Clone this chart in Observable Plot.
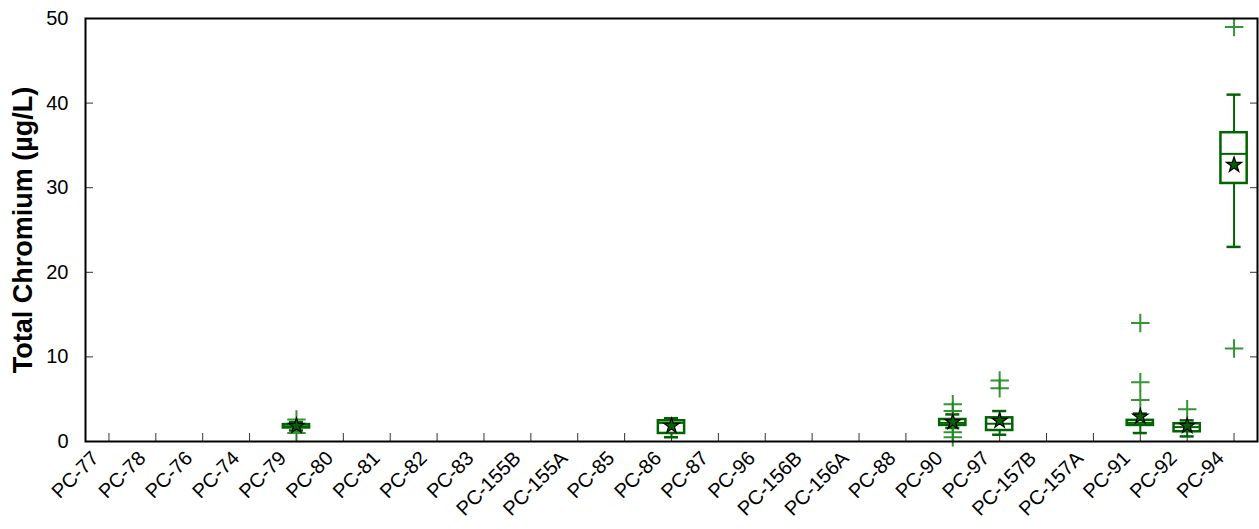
<!DOCTYPE html>
<html>
<head>
<meta charset="utf-8">
<script src="https://cdn.jsdelivr.net/npm/d3@7"></script>
<script src="https://cdn.jsdelivr.net/npm/@observablehq/plot@0.6"></script>
<style>
  html, body { margin: 0; padding: 0; background: #fff; }
  #chart { width: 1259px; height: 529px; }
  svg { font-family: "Liberation Sans", Arial, sans-serif; }
</style>
</head>
<body>
<div id="chart"></div>
<script>
// Categories along the x axis (in order)
const sites = ["PC-77","PC-78","PC-76","PC-74","PC-79","PC-80","PC-81","PC-82","PC-83","PC-155B","PC-155A","PC-85","PC-86","PC-87","PC-96","PC-156B","PC-156A","PC-88","PC-90","PC-97","PC-157B","PC-157A","PC-91","PC-92","PC-94"];

// Box statistics for sites that have data
const boxSites = ["PC-79","PC-86","PC-90","PC-97","PC-91","PC-92","PC-94"];
const whiskerLo = [1.3, 0.5, 1.6, 0.8, 1.0, 0.6, 23];
const q1        = [1.6, 0.95, 1.9, 1.3, 1.9, 1.15, 30.5];
const median    = [1.8, 2.2, 2.2, 2.1, 2.2, 1.7, 34];
const q3        = [2.0, 2.45, 2.6, 2.8, 2.5, 2.1, 36.5];
const whiskerHi = [2.3, 2.75, 3.2, 3.6, 3.3, 2.5, 41];
const means     = [1.85, 1.85, 2.3, 2.45, 2.95, 1.85, 32.7];

// Outliers
const flierSites  = ["PC-79","PC-79","PC-90","PC-90","PC-90","PC-90","PC-97","PC-97","PC-91","PC-91","PC-91","PC-92","PC-94","PC-94"];
const flierValues = [2.6, 1.0, 4.4, 3.6, 1.1, 0.5, 7.2, 6.3, 14.0, 7.0, 4.9, 3.8, 49, 11];

// Y ticks
const yTicks = [0, 10, 20, 30, 40, 50];

const pos = s => sites.indexOf(s) + 1;
const boxes = boxSites.map((s, i) => ({
  x: pos(s), lo: whiskerLo[i], q1: q1[i], med: median[i], q3: q3[i], hi: whiskerHi[i], mean: means[i]
}));
const fliers = flierSites.map((s, i) => ({x: pos(s), v: flierValues[i]}));
const xTicks = d3.range(1, sites.length + 1);
const labels = sites.map((s, i) => ({x: i + 1, s}));

const boxHalf = 0.28, capHalf = 0.15;
const dark = "#006400";
const FONT = "'Liberation Sans', Arial, sans-serif";

const chart = Plot.plot({
  width: 1259,
  height: 529,
  marginLeft: 85,
  marginRight: 2,
  marginTop: 18,
  marginBottom: 88,
  style: {fontFamily: FONT, background: "white", color: "black"},
  x: {domain: [0.5, sites.length + 0.5], axis: null},
  y: {domain: [0, 50], axis: null},
  marks: [
    // x tick labels (rotated)
    Plot.text(labels, {x: "x", text: "s", frameAnchor: "bottom", rotate: -45, textAnchor: "end", dx: -9, dy: 18, fontSize: 20, fill: "black"}),
    // y tick labels
    Plot.text(yTicks, {y: d => d, text: d => String(d), frameAnchor: "left", textAnchor: "end", dx: -17, fontSize: 20, fill: "black"}),
    // inward ticks
    Plot.axisX(xTicks, {tickSize: -8, tickFormat: () => "", label: null, stroke: "#333"}),
    Plot.axisY(yTicks, {tickSize: -8, tickFormat: () => "", label: null, stroke: "#333"}),
    Plot.axisY(yTicks, {anchor: "right", tickSize: -8, tickFormat: () => "", label: null, stroke: "#333"}),
    // whiskers
    Plot.ruleX(boxes, {x: "x", y1: "lo", y2: "q1", stroke: dark, strokeWidth: 2}),
    Plot.ruleX(boxes, {x: "x", y1: "q3", y2: "hi", stroke: dark, strokeWidth: 2}),
    Plot.ruleY(boxes, {y: "lo", x1: d => d.x - capHalf, x2: d => d.x + capHalf, stroke: dark, strokeWidth: 2.5}),
    Plot.ruleY(boxes, {y: "hi", x1: d => d.x - capHalf, x2: d => d.x + capHalf, stroke: dark, strokeWidth: 2.5}),
    // boxes
    Plot.rect(boxes, {x1: d => d.x - boxHalf, x2: d => d.x + boxHalf, y1: "q1", y2: "q3", fill: "white", stroke: dark, strokeWidth: 2.5}),
    Plot.ruleY(boxes, {y: "med", x1: d => d.x - boxHalf, x2: d => d.x + boxHalf, stroke: dark, strokeWidth: 2}),
    // fliers
    Plot.dot(fliers, {x: "x", y: "v", symbol: "plus", r: 6, stroke: "#1e8a1e", strokeWidth: 2, strokeOpacity: 0.9}),
    // means
    Plot.dot(boxes, {x: "x", y: "mean", symbol: "star", r: 4.8, fill: dark, stroke: "black", strokeWidth: 1.2}),
    Plot.frame({stroke: "black", strokeWidth: 2}),
    // y axis title
    Plot.text(["Total Chromium (µg/L)"], {frameAnchor: "left", dx: -62, rotate: -90, fontSize: 27, fontWeight: "bold", fill: "black", textAnchor: "middle"})
  ]
});

document.getElementById("chart").appendChild(chart);
</script>
</body>
</html>
